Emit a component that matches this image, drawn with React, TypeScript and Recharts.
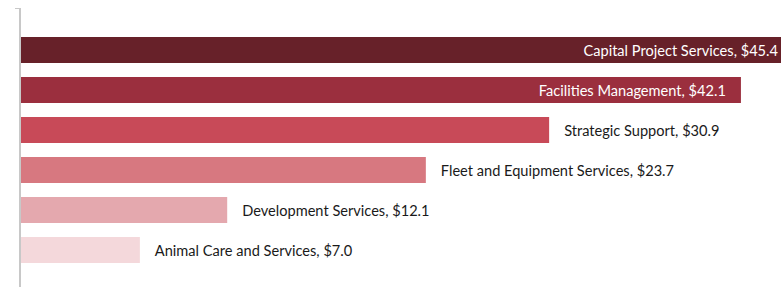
import React from "react";
import { BarChart, Bar, XAxis, YAxis, Cell, LabelList, Customized } from "recharts";

const categories = [
  "Capital Project Services",
  "Facilities Management",
  "Strategic Support",
  "Fleet and Equipment Services",
  "Development Services",
  "Animal Care and Services",
];
const values = [45.4, 42.1, 30.9, 23.7, 12.1, 7.0];
const colors = ["#672129", "#9b2f3e", "#c84a58", "#d77880", "#e4a8ae", "#f4d8db"];

const data = categories.map((name, i) => ({ name, value: values[i] }));

const W = 773;
const H = 279;
const FONT = "Lato, 'Noto Sans', sans-serif";
const FS = 14.6;

const renderLabel = (props: any) => {
  const { x, y, width, height, value, index } = props;
  const text = `${categories[index]}, $${Number(value).toFixed(1)}`;
  const inside = value >= 40;
  const cy = Number(y) + Number(height) / 2;
  if (inside) {
    const end = Math.min(Number(x) + Number(width) - 15, W - 3);
    return (
      <text x={end} y={cy} textAnchor="end" dominantBaseline="central" fill="#ffffff" fontSize={FS} fontFamily={FONT}>
        {text}
      </text>
    );
  }
  return (
    <text x={Number(x) + Number(width) + 15} y={cy} textAnchor="start" dominantBaseline="central" fill="#1a1a1a" fontSize={FS} fontFamily={FONT}>
      {text}
    </text>
  );
};

export default function App() {
  return (
    <div style={{ width: 781, height: 287, padding: "8px 0 0 8px", boxSizing: "border-box", background: "#ffffff" }}>
      <style>{"body{margin:0}"}</style>
      <BarChart
        width={W}
        height={H}
        data={data}
        layout="vertical"
        margin={{ top: 0, right: 0, bottom: 0, left: 0 }}
        barSize={26}
      >
        <XAxis type="number" domain={[0, 44.44]} allowDataOverflow hide />
        <YAxis
          type="category"
          dataKey="name"
          width={12}
          tick={false}
          tickLine={false}
          axisLine={{ stroke: "#c8c8c8", strokeWidth: 2 }}
          padding={{ top: 22, bottom: 17 }}
        />
        <Bar dataKey="value" isAnimationActive={false}>
          {data.map((d, i) => (
            <Cell key={d.name} fill={colors[i]} />
          ))}
          <LabelList dataKey="value" content={renderLabel} />
        </Bar>
        <Customized component={() => <line x1={7} x2={13} y1={0} y2={0} stroke="#c8c8c8" strokeWidth={2} />} />
      </BarChart>
    </div>
  );
}
